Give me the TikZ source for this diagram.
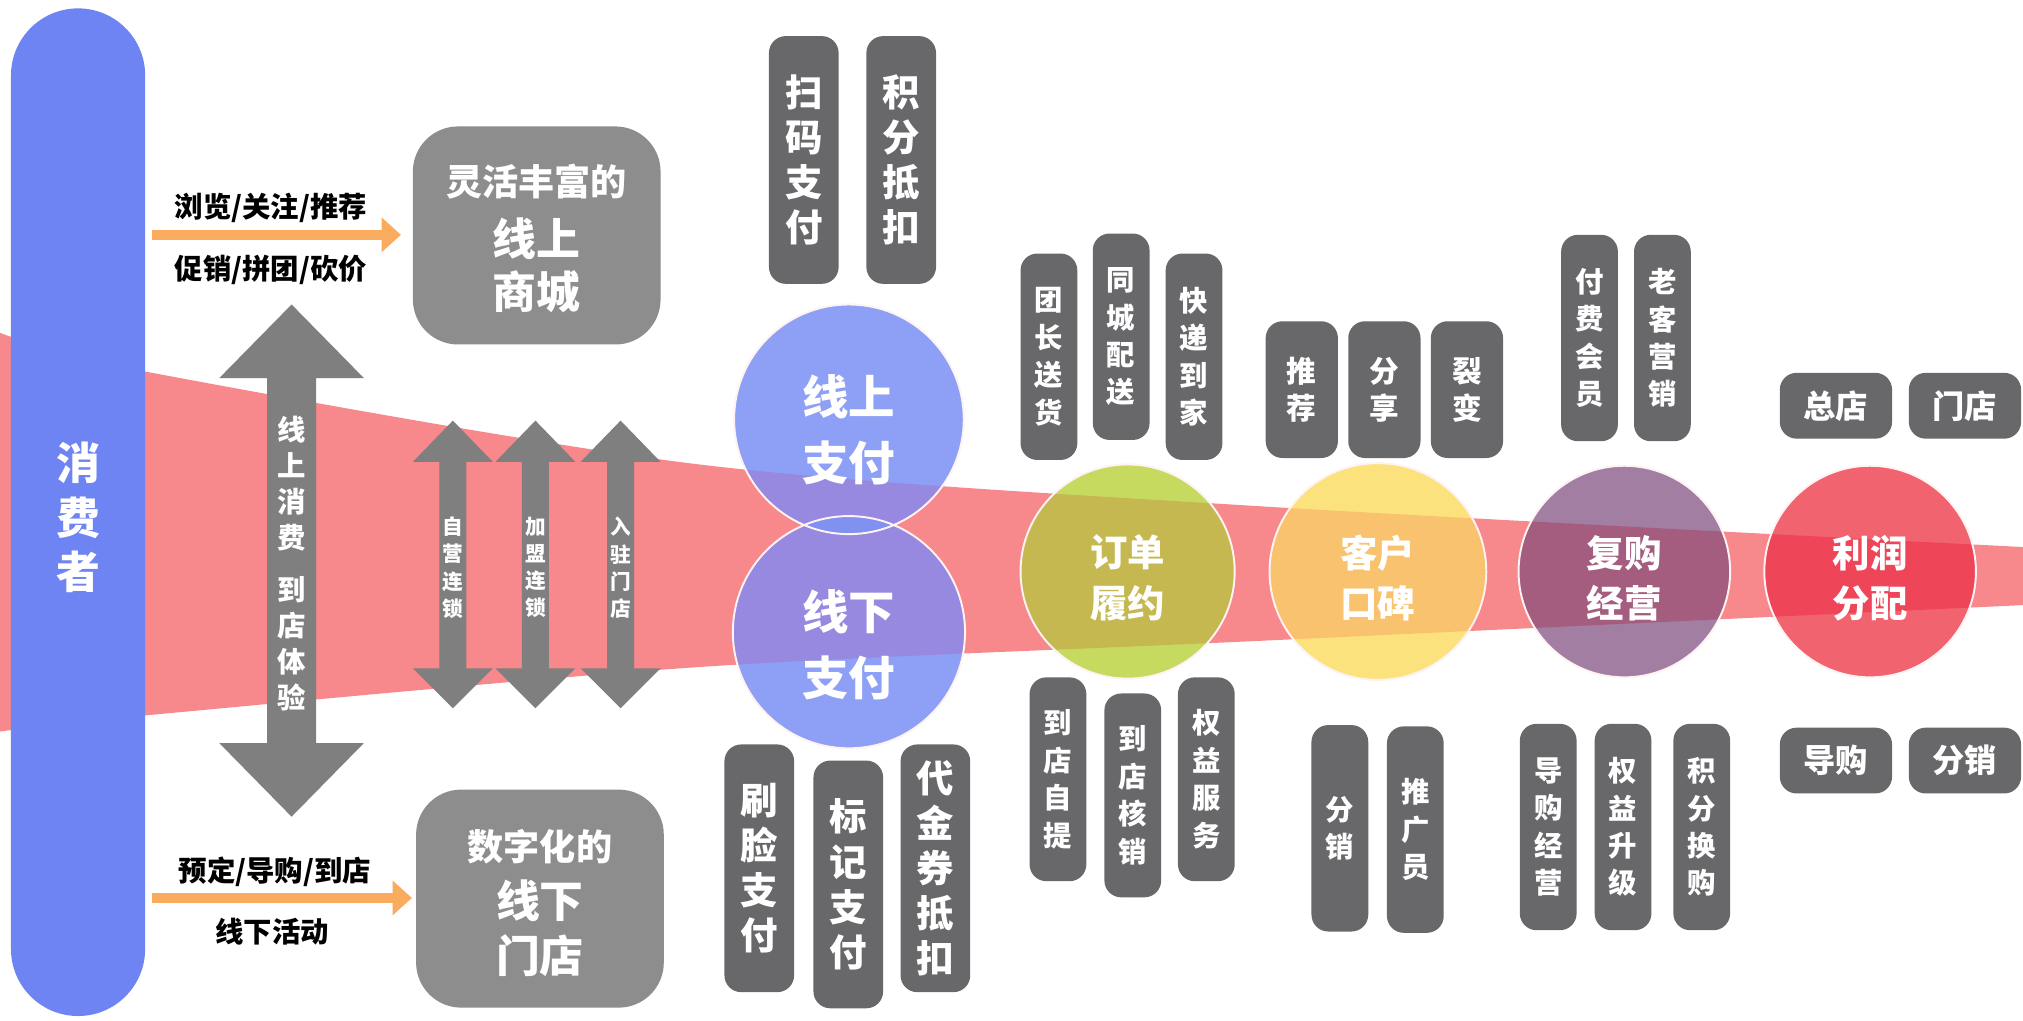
\documentclass[tikz,border=0pt]{standalone}
\usepackage{fontspec}
\setmainfont{Noto Sans CJK SC}
\usetikzlibrary{arrows.meta}
\definecolor{barC}{HTML}{6F84F3}
\definecolor{bandC}{HTML}{F7888B}
\definecolor{boxC}{HTML}{8D8D8D}
\definecolor{tagC}{HTML}{68686B}
\definecolor{arrowC}{HTML}{7F7F7F}
\definecolor{orangeC}{HTML}{FAAB5E}
\definecolor{blueC}{HTML}{8EA0F5}
\definecolor{blueIn}{HTML}{9789DF}
\definecolor{lensC}{HTML}{8191F0}
\definecolor{greenC}{HTML}{C7DA60}
\definecolor{greenIn}{HTML}{C6B850}
\definecolor{yellowC}{HTML}{FCE27D}
\definecolor{yellowIn}{HTML}{F9C26F}
\definecolor{purpleC}{HTML}{A27EA3}
\definecolor{purpleIn}{HTML}{A45D7F}
\definecolor{redC}{HTML}{F1636F}
\definecolor{redIn}{HTML}{EE4558}
\definecolor{ringC}{HTML}{FFF2F2}
\newcommand\bandpath{plot[smooth,tension=0.5] coordinates {(0,258) (118,289) (542,360) (970,392) (1568,424)} -- plot[smooth,tension=0.5] coordinates {(1568,469) (970,497) (542,517) (118,554) (0,567)} -- cycle}
\newcommand\stagefill[5]{%
  \fill[#4] (#1,#2) circle[radius=#3pt];
  \begin{scope}\clip (#1,#2) circle[radius=#3pt]; \fill[#5] \bandpath; \end{scope}}
\newcommand\mydarrow[1]{\fill[arrowC] (#1,326) -- ++(31,32) -- ++(-20.5,0) -- ++(0,160) -- ++(20.5,0) -- ++(-31,31) -- ++(-31,-31) -- ++(20.5,0) -- ++(0,-160) -- ++(-20.5,0) -- cycle;}
\begin{document}
\begin{tikzpicture}[x=1pt,y=-1pt,
  tag/.style={fill=tagC, rounded corners=13pt, text=white, align=center, inner sep=0pt},
  tagA/.style={tag, minimum width=54pt, minimum height=192pt, font=\bfseries\fontsize{29}{35}\selectfont},
  tagB/.style={tag, minimum width=44pt, minimum height=160pt, font=\bfseries\fontsize{22}{29}\selectfont},
  tagC/.style={tag, minimum width=56pt, minimum height=106pt, font=\bfseries\fontsize{23}{29}\selectfont},
  tagD/.style={tag, minimum width=87pt, minimum height=51pt, font=\bfseries\fontsize{25}{30}\selectfont},
  ring/.style={circle, draw=ringC, line width=1.5pt, inner sep=0pt},
  ctextL/.style={text=white, align=center, inner sep=0pt, font=\bfseries\fontsize{36}{51}\selectfont},
  ctextS/.style={text=white, align=center, inner sep=0pt, font=\bfseries\fontsize{29}{39}\selectfont},
  bigbox/.style={fill=boxC, rounded corners=35pt, minimum width=192pt, minimum height=169pt, inner sep=0pt},
  boxtxtS/.style={text=white, inner sep=0pt, font=\bfseries\fontsize{28}{34}\selectfont},
  boxtxtL/.style={text=white, inner sep=0pt, font=\bfseries\fontsize{34}{40}\selectfont},
  lbl/.style={text=black, inner sep=0pt, font=\bfseries\fontsize{22}{26}\selectfont},
  oarrow/.style={draw=orangeC, line width=8pt, -{Triangle[width=26pt,length=15pt]}},
  arrtxt/.style={text=white, align=center, inner sep=0pt}
]
\useasboundingbox (0,0) rectangle (1568,791);
\fill[white] (0,0) rectangle (1568,791);
% funnel band
\fill[bandC] \bandpath;
% stage circles
\stagefill{658}{325}{89}{blueC}{blueIn}
\stagefill{658}{490}{90}{blueC}{blueIn}
\begin{scope}\clip (658,325) circle[radius=89pt]; \fill[lensC] (658,490) circle[radius=90pt]; \end{scope}
\stagefill{874}{443}{83}{greenC}{greenIn}
\stagefill{1068}{443}{84}{yellowC}{yellowIn}
\stagefill{1259}{443}{82}{purpleC}{purpleIn}
\stagefill{1449.5}{443}{82}{redC}{redIn}
\node[ring, minimum size=178pt] (c1) at (658,325) {};
\node[ring, minimum size=180pt] (c2) at (658,490) {};
\node[ring, minimum size=166pt] (c3) at (874,443) {};
\node[ring, minimum size=168pt] (c4) at (1068,443) {};
\node[ring, minimum size=164pt] (c5) at (1259,443) {};
\node[ring, minimum size=164pt] (c6) at (1449.5,443) {};
\node[ctextL] (c1t) at ([yshift=-8pt]c1.center) {线上\\支付};
\node[ctextL] (c2t) at ([yshift=-10pt]c2.center) {线下\\支付};
\node[ctextS] (c3t) at ([yshift=-5pt]c3.center) {订单\\履约};
\node[ctextS] (c4t) at ([yshift=-5pt]c4.center) {客户\\口碑};
\node[ctextS] (c5t) at ([yshift=-5pt]c5.center) {复购\\经营};
\node[ctextS] (c6t) at ([yshift=-5pt]c6.center) {利润\\分配};
% consumer bar
\node[fill=barC, rounded corners=52pt, minimum width=104pt, minimum height=781pt, inner sep=0pt] (consumer) at (60.5,397) {};
\node[text=white, align=center, inner sep=0pt, font=\bfseries\fontsize{34}{42}\selectfont] (consumert) at (60.5,401) {消\\费\\者};
% big double arrow
\fill[arrowC] (226,236) -- (282,293) -- (245,293) -- (245,576) -- (282,576) -- (226,633) -- (170,576) -- (207,576) -- (207,293) -- (170,293) -- cycle;
\node[arrtxt, font=\bfseries\fontsize{22}{28}\selectfont] (bigt) at (226,437) {线\\上\\消\\费\\[12pt]到\\店\\体\\验};
% small double arrows
\mydarrow{351}
\mydarrow{415}
\mydarrow{481}
\node[arrtxt, font=\bfseries\fontsize{16}{21}\selectfont] (s1) at (351,440) {自\\营\\连\\锁};
\node[arrtxt, font=\bfseries\fontsize{16}{21}\selectfont] (s2) at (415,440) {加\\盟\\连\\锁};
\node[arrtxt, font=\bfseries\fontsize{16}{21}\selectfont] (s3) at (481,440) {入\\驻\\门\\店};
% boxes
\node[bigbox] (box1) at (416,182.5) {};
\node[boxtxtS] (box1a) at (416,141) {灵活丰富的};
\node[boxtxtL] (box1b) at (416,185) {线上};
\node[boxtxtL] (box1c) at (416,226) {商城};
\node[bigbox] (box2) at (418.5,696.5) {};
\node[boxtxtS] (box2a) at (418.5,656) {数字化的};
\node[boxtxtL] (box2b) at (418.5,698) {线下};
\node[boxtxtL] (box2c) at (418.5,741) {门店};
% orange arrows
\coordinate (o1) at (118,182);
\coordinate (o2) at (118,696);
\draw[oarrow, shorten >=9pt] (o1) -- (o1 -| box1.west);
\draw[oarrow, shorten >=3pt] (o2) -- (o2 -| box2.west);
\node[lbl] (l1) at (210,161) {浏览/关注/推荐};
\node[lbl] (l2) at (210,209) {促销/拼团/砍价};
\node[lbl] (l3) at (213,676) {预定/导购/到店};
\node[lbl] (l4) at (211,722) {线下活动};
% tags: payment
\node[tagA] (t1) at (623,124) {扫\\码\\支\\付};
\node[tagA] (t2) at (698.5,124) {积\\分\\抵\\扣};
\node[tagA] (t3) at (588.5,673) {刷\\脸\\支\\付};
\node[tagA] (t4) at (657.5,685.5) {标\\记\\支\\付};
\node[tagA] (t5) at (725,673) {代\\金\\券\\抵\\扣};
% tags: fulfilment
\node[tagB] (t6) at (813,276.5) {团\\长\\送\\货};
\node[tagB] (t7) at (869,261) {同\\城\\配\\送};
\node[tagB] (t8) at (925.5,276.5) {快\\递\\到\\家};
\node[tagB, minimum height=158pt] (t9) at (820,604) {到\\店\\自\\提};
\node[tagB, minimum height=158pt] (t10) at (878,616.5) {到\\店\\核\\销};
\node[tagB, minimum height=158pt] (t11) at (935,604) {权\\益\\服\\务};
% tags: word of mouth
\node[tagC] (t12) at (1009,302) {推\\荐};
\node[tagC] (t13) at (1073,302) {分\\享};
\node[tagC] (t14) at (1137,302) {裂\\变};
\node[tagB] (t15) at (1038.5,642) {分\\销};
\node[tagB] (t16) at (1097,643) {推\\广\\员};
% tags: repurchase
\node[tagB] (t17) at (1232,262) {付\\费\\会\\员};
\node[tagB] (t18) at (1288.5,262) {老\\客\\营\\销};
\node[tagB] (t19) at (1200,641) {导\\购\\经\\营};
\node[tagB] (t20) at (1258,641) {权\\益\\升\\级};
\node[tagB] (t21) at (1319,641) {积\\分\\换\\购};
% tags: profit
\node[tagD] (t22) at (1423,314.5) {总店};
\node[tagD] (t23) at (1523,314.5) {门店};
\node[tagD] (t24) at (1423,589.5) {导购};
\node[tagD] (t25) at (1523,589.5) {分销};
\end{tikzpicture}
\end{document}
